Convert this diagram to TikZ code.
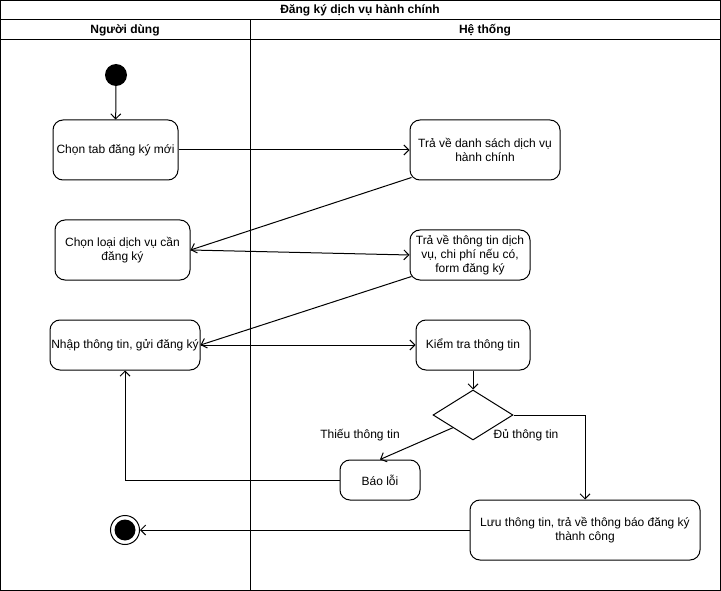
\documentclass[tikz,border=0pt]{standalone}
\usepackage{fontspec}
\setmainfont{Liberation Sans}
\usetikzlibrary{arrows.meta,shapes.geometric}
\begin{document}
\begin{tikzpicture}[x=1pt,y=-1pt,
  font=\fontsize{12}{14}\selectfont,
  act/.style={draw, rounded corners=10pt, align=center, inner sep=0pt, line width=1pt},
  flow/.style={-{Straight Barb[length=5pt,width=10pt]}, line width=1pt},
  lane/.style={draw, line width=1pt},
  head/.style={font=\fontsize{12}{14}\selectfont\bfseries, inner sep=0pt},
  guard/.style={inner sep=0pt}]
\useasboundingbox (0,0) rectangle (721,591);

% pool frame, title row, lane headers and lane divider
\draw[lane] (0.5,0.5) rectangle (720.5,590.5);
\draw[lane] (0.5,20) -- (720.5,20);
\draw[lane] (0.5,40) -- (720.5,40);
\draw[lane] (250,20) -- (250,590.5);
\node[head] (title) at (360,10) {Đăng ký dịch vụ hành chính};
\node[head] (laneU) at (125,30) {Người dùng};
\node[head] (laneS) at (485,30) {Hệ thống};

% start and end
\node[circle, fill, minimum size=22pt, inner sep=0pt] (start) at (116,75) {};
\node[circle, draw, line width=1pt, minimum size=29pt, inner sep=0pt] (stop) at (125,530) {};
\fill (stop.center) circle (10.5);

% activities
\node[act, minimum width=125pt, minimum height=60pt] (a) at (115.5,150) {Chọn tab đăng ký mới};
\node[act, minimum width=150pt, minimum height=60pt] (b) at (485,150) {Trả về danh sách dịch vụ\\hành chính};
\node[act, minimum width=135pt, minimum height=60pt] (c) at (122.5,250) {Chọn loại dịch vụ cần\\đăng ký};
\node[act, minimum width=120pt, minimum height=50pt] (d) at (470,255) {Trả về thông tin dịch\\vụ, chi phí nếu có,\\form đăng ký};
\node[act, minimum width=150pt, minimum height=50pt] (e) at (125,345) {Nhập thông tin, gửi đăng ký};
\node[act, minimum width=114pt, minimum height=50pt] (f) at (473,345) {Kiểm tra thông tin};
\node[diamond, draw, line width=1pt, minimum width=80pt, minimum height=50pt, inner sep=0pt] (dm) at (473,415) {};
\node[act, minimum width=80pt, minimum height=40pt] (err) at (380,480) {Báo lỗi};
\node[act, minimum width=230pt, minimum height=60pt] (g) at (585,530) {Lưu thông tin, trả về thông báo đăng ký\\thành công};

% flows
\draw[flow] (start) -- (a);
\draw[flow] (a.east) -- (b.west);
\draw[flow] ([xshift=2pt,yshift=3pt]b.south west) -- (c.east);
\draw[flow] (c.east) -- (d.west);
\draw[flow] ([xshift=2pt,yshift=4pt]d.south west) -- (e.east);
\draw[flow] (e.east) -- (f.west);
\draw[flow] (f.south) -- (dm.north);
\draw[flow] (dm.south west) -- (err.north);
\draw[flow] (err.west) -| (e.south);
\draw[flow] (dm.east) -| (g.north);
\draw[flow] (g.west) -- (stop);

% guards
\node[guard] (gMiss) at (360,435) {Thiếu thông tin};
\node[guard] (gOk) at (526,435) {Đủ thông tin};
\end{tikzpicture}
\end{document}
